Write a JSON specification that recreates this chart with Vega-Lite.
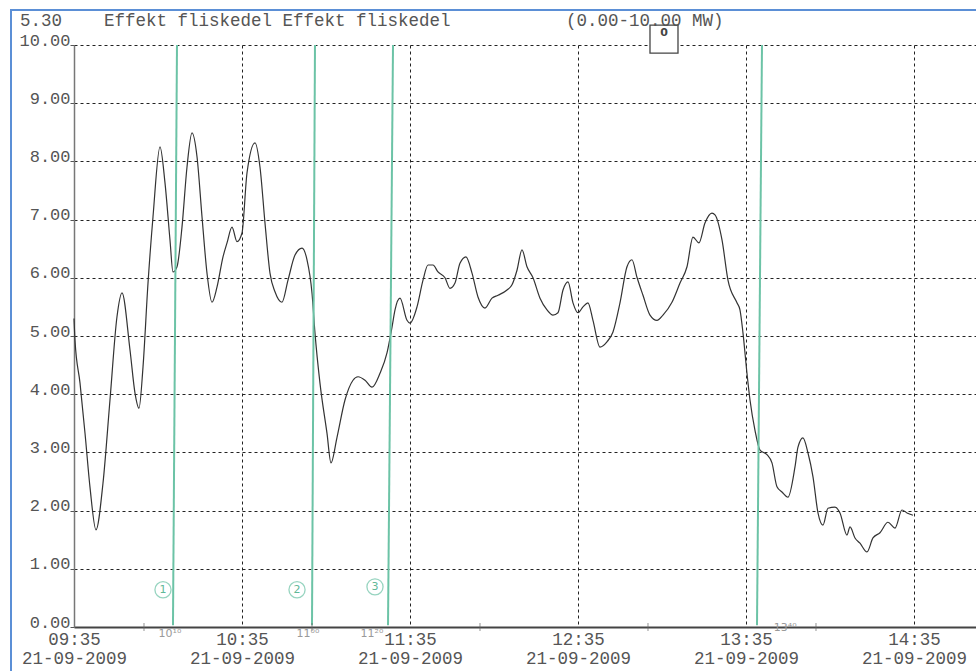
{
  "$schema": "https://vega.github.io/schema/vega-lite/v6.json",
  "width": 902,
  "height": 582,
  "autosize": {"type": "none"},
  "padding": {"left": 74, "top": 45, "right": 0, "bottom": 44},
  "background": "white",
  "config": {"view": {"stroke": null}},
  "data": {"values": [{}]},
  "title": {
    "text": "5.30\u00a0\u00a0\u00a0\u00a0Effekt\u00a0fliskedel\u00a0Effekt\u00a0fliskedel\u00a0\u00a0\u00a0\u00a0\u00a0\u00a0\u00a0\u00a0\u00a0\u00a0\u00a0(0.00-10.00\u00a0MW)",
    "anchor": "start",
    "frame": "group",
    "font": "Liberation Mono",
    "fontSize": 17.5,
    "fontWeight": "normal",
    "color": "#555555",
    "dx": -54,
    "dy": 39,
    "offset": 5,
    "baseline": "alphabetic"
  },
  "datasets": {
    "power": [
      {"t": "2009-09-21T09:35:00", "v": 5.3},
      {"t": "2009-09-21T09:35:21", "v": 4.93},
      {"t": "2009-09-21T09:37:09", "v": 4.19},
      {"t": "2009-09-21T09:38:56", "v": 3.33},
      {"t": "2009-09-21T09:40:43", "v": 2.4},
      {"t": "2009-09-21T09:42:51", "v": 1.67},
      {"t": "2009-09-21T09:45:21", "v": 2.47},
      {"t": "2009-09-21T09:47:51", "v": 3.9},
      {"t": "2009-09-21T09:50:21", "v": 5.33},
      {"t": "2009-09-21T09:52:09", "v": 5.74},
      {"t": "2009-09-21T09:55:00", "v": 4.76},
      {"t": "2009-09-21T09:56:47", "v": 4.02},
      {"t": "2009-09-21T09:58:13", "v": 3.76},
      {"t": "2009-09-21T09:59:39", "v": 4.47},
      {"t": "2009-09-21T10:01:26", "v": 5.91},
      {"t": "2009-09-21T10:03:13", "v": 7.05},
      {"t": "2009-09-21T10:05:43", "v": 8.25},
      {"t": "2009-09-21T10:07:30", "v": 7.63},
      {"t": "2009-09-21T10:09:17", "v": 6.65},
      {"t": "2009-09-21T10:10:21", "v": 6.1},
      {"t": "2009-09-21T10:11:47", "v": 6.19},
      {"t": "2009-09-21T10:13:34", "v": 6.87},
      {"t": "2009-09-21T10:15:21", "v": 7.9},
      {"t": "2009-09-21T10:17:09", "v": 8.49},
      {"t": "2009-09-21T10:18:56", "v": 8.08},
      {"t": "2009-09-21T10:20:43", "v": 7.05},
      {"t": "2009-09-21T10:22:30", "v": 6.08},
      {"t": "2009-09-21T10:24:17", "v": 5.58},
      {"t": "2009-09-21T10:26:04", "v": 5.84},
      {"t": "2009-09-21T10:28:13", "v": 6.36},
      {"t": "2009-09-21T10:29:39", "v": 6.6},
      {"t": "2009-09-21T10:31:26", "v": 6.87},
      {"t": "2009-09-21T10:33:13", "v": 6.62},
      {"t": "2009-09-21T10:35:00", "v": 6.77},
      {"t": "2009-09-21T10:36:47", "v": 7.8},
      {"t": "2009-09-21T10:39:39", "v": 8.32},
      {"t": "2009-09-21T10:41:26", "v": 7.9},
      {"t": "2009-09-21T10:43:13", "v": 6.94},
      {"t": "2009-09-21T10:45:00", "v": 6.08},
      {"t": "2009-09-21T10:46:47", "v": 5.76},
      {"t": "2009-09-21T10:49:17", "v": 5.58},
      {"t": "2009-09-21T10:51:26", "v": 5.96},
      {"t": "2009-09-21T10:53:56", "v": 6.39},
      {"t": "2009-09-21T10:56:26", "v": 6.51},
      {"t": "2009-09-21T10:58:13", "v": 6.31},
      {"t": "2009-09-21T11:00:00", "v": 5.74},
      {"t": "2009-09-21T11:01:04", "v": 5.05},
      {"t": "2009-09-21T11:02:51", "v": 4.19},
      {"t": "2009-09-21T11:05:21", "v": 3.33},
      {"t": "2009-09-21T11:06:47", "v": 2.82},
      {"t": "2009-09-21T11:08:56", "v": 3.26},
      {"t": "2009-09-21T11:11:47", "v": 3.9},
      {"t": "2009-09-21T11:14:39", "v": 4.24},
      {"t": "2009-09-21T11:16:26", "v": 4.3},
      {"t": "2009-09-21T11:18:56", "v": 4.24},
      {"t": "2009-09-21T11:21:26", "v": 4.12},
      {"t": "2009-09-21T11:24:17", "v": 4.36},
      {"t": "2009-09-21T11:26:47", "v": 4.71},
      {"t": "2009-09-21T11:28:34", "v": 5.15},
      {"t": "2009-09-21T11:29:39", "v": 5.45},
      {"t": "2009-09-21T11:31:26", "v": 5.65},
      {"t": "2009-09-21T11:33:56", "v": 5.27},
      {"t": "2009-09-21T11:35:00", "v": 5.22},
      {"t": "2009-09-21T11:37:30", "v": 5.5},
      {"t": "2009-09-21T11:39:39", "v": 5.96},
      {"t": "2009-09-21T11:41:26", "v": 6.22},
      {"t": "2009-09-21T11:43:13", "v": 6.22},
      {"t": "2009-09-21T11:45:00", "v": 6.1},
      {"t": "2009-09-21T11:47:30", "v": 6.0},
      {"t": "2009-09-21T11:49:17", "v": 5.82},
      {"t": "2009-09-21T11:51:04", "v": 5.91},
      {"t": "2009-09-21T11:52:51", "v": 6.25},
      {"t": "2009-09-21T11:55:00", "v": 6.36},
      {"t": "2009-09-21T11:57:09", "v": 6.08},
      {"t": "2009-09-21T11:59:17", "v": 5.67},
      {"t": "2009-09-21T12:01:47", "v": 5.48},
      {"t": "2009-09-21T12:04:17", "v": 5.65},
      {"t": "2009-09-21T12:06:26", "v": 5.7},
      {"t": "2009-09-21T12:09:39", "v": 5.79},
      {"t": "2009-09-21T12:11:26", "v": 5.88},
      {"t": "2009-09-21T12:13:13", "v": 6.13},
      {"t": "2009-09-21T12:15:00", "v": 6.48},
      {"t": "2009-09-21T12:16:47", "v": 6.19},
      {"t": "2009-09-21T12:18:56", "v": 6.0},
      {"t": "2009-09-21T12:21:26", "v": 5.65},
      {"t": "2009-09-21T12:23:56", "v": 5.45},
      {"t": "2009-09-21T12:26:04", "v": 5.36},
      {"t": "2009-09-21T12:27:51", "v": 5.4},
      {"t": "2009-09-21T12:29:39", "v": 5.79},
      {"t": "2009-09-21T12:31:26", "v": 5.93},
      {"t": "2009-09-21T12:33:13", "v": 5.57},
      {"t": "2009-09-21T12:35:00", "v": 5.4},
      {"t": "2009-09-21T12:36:47", "v": 5.5},
      {"t": "2009-09-21T12:38:34", "v": 5.57},
      {"t": "2009-09-21T12:40:21", "v": 5.27},
      {"t": "2009-09-21T12:42:51", "v": 4.81},
      {"t": "2009-09-21T12:45:21", "v": 4.9},
      {"t": "2009-09-21T12:47:30", "v": 5.07},
      {"t": "2009-09-21T12:50:00", "v": 5.57},
      {"t": "2009-09-21T12:52:30", "v": 6.19},
      {"t": "2009-09-21T12:54:17", "v": 6.31},
      {"t": "2009-09-21T12:56:04", "v": 6.01},
      {"t": "2009-09-21T12:58:13", "v": 5.7},
      {"t": "2009-09-21T13:00:43", "v": 5.36},
      {"t": "2009-09-21T13:03:13", "v": 5.27},
      {"t": "2009-09-21T13:05:21", "v": 5.36},
      {"t": "2009-09-21T13:08:34", "v": 5.58},
      {"t": "2009-09-21T13:11:26", "v": 5.91},
      {"t": "2009-09-21T13:13:56", "v": 6.19},
      {"t": "2009-09-21T13:16:04", "v": 6.7},
      {"t": "2009-09-21T13:18:13", "v": 6.6},
      {"t": "2009-09-21T13:20:21", "v": 6.94},
      {"t": "2009-09-21T13:22:51", "v": 7.11},
      {"t": "2009-09-21T13:23:56", "v": 7.08},
      {"t": "2009-09-21T13:26:26", "v": 6.65},
      {"t": "2009-09-21T13:28:34", "v": 5.96},
      {"t": "2009-09-21T13:31:47", "v": 5.57},
      {"t": "2009-09-21T13:32:51", "v": 5.45},
      {"t": "2009-09-21T13:33:56", "v": 5.05},
      {"t": "2009-09-21T13:35:21", "v": 4.36},
      {"t": "2009-09-21T13:36:26", "v": 3.9},
      {"t": "2009-09-21T13:38:13", "v": 3.38},
      {"t": "2009-09-21T13:40:00", "v": 3.04},
      {"t": "2009-09-21T13:42:30", "v": 2.96},
      {"t": "2009-09-21T13:44:17", "v": 2.82},
      {"t": "2009-09-21T13:46:04", "v": 2.41},
      {"t": "2009-09-21T13:47:51", "v": 2.32},
      {"t": "2009-09-21T13:50:00", "v": 2.23},
      {"t": "2009-09-21T13:52:30", "v": 2.75},
      {"t": "2009-09-21T13:53:34", "v": 3.09},
      {"t": "2009-09-21T13:55:21", "v": 3.25},
      {"t": "2009-09-21T13:57:09", "v": 2.99},
      {"t": "2009-09-21T13:58:56", "v": 2.58},
      {"t": "2009-09-21T14:00:43", "v": 1.96},
      {"t": "2009-09-21T14:02:30", "v": 1.75},
      {"t": "2009-09-21T14:04:17", "v": 2.04},
      {"t": "2009-09-21T14:06:47", "v": 2.06},
      {"t": "2009-09-21T14:08:34", "v": 1.96},
      {"t": "2009-09-21T14:11:04", "v": 1.58},
      {"t": "2009-09-21T14:12:09", "v": 1.72},
      {"t": "2009-09-21T14:13:56", "v": 1.53},
      {"t": "2009-09-21T14:15:43", "v": 1.44},
      {"t": "2009-09-21T14:18:13", "v": 1.29},
      {"t": "2009-09-21T14:20:21", "v": 1.53},
      {"t": "2009-09-21T14:22:51", "v": 1.62},
      {"t": "2009-09-21T14:25:43", "v": 1.8},
      {"t": "2009-09-21T14:28:13", "v": 1.7},
      {"t": "2009-09-21T14:30:43", "v": 2.01},
      {"t": "2009-09-21T14:32:30", "v": 1.96},
      {"t": "2009-09-21T14:34:39", "v": 1.92}
    ],
    "marks": [
      {"top": "2009-09-21T10:11:47", "bottom": "2009-09-21T10:10:21"},
      {"top": "2009-09-21T11:01:04", "bottom": "2009-09-21T11:00:00"},
      {"top": "2009-09-21T11:28:56", "bottom": "2009-09-21T11:27:09"},
      {"top": "2009-09-21T13:40:43", "bottom": "2009-09-21T13:38:56"}
    ],
    "circled": [
      {"t": "2009-09-21T10:06:47", "v": 0.64, "n": "1"},
      {"t": "2009-09-21T10:54:39", "v": 0.64, "n": "2"},
      {"t": "2009-09-21T11:22:30", "v": 0.69, "n": "3"}
    ],
    "notes": [
      {"t": "2009-09-21T10:09:17", "v": -0.12, "s": "10¹⁰"},
      {"t": "2009-09-21T10:58:34", "v": -0.12, "s": "11⁰⁰"},
      {"t": "2009-09-21T11:21:26", "v": -0.12, "s": "11²⁰"},
      {"t": "2009-09-21T13:49:00", "v": -0.02, "s": "13⁴⁰"}
    ],
    "hours": [
      {"t": "2009-09-21T10:00:00"},
      {"t": "2009-09-21T11:00:00"},
      {"t": "2009-09-21T12:00:00"},
      {"t": "2009-09-21T13:00:00"},
      {"t": "2009-09-21T14:00:00"}
    ],
    "frame": [
      {"t1": "2009-09-21T09:12:30", "t2": "2009-09-21T15:30:00", "v1": 10.6, "v2": -2}
    ],
    "cursor": [
      {"t": "2009-09-21T13:05:43", "v": 10.1, "s": "0"}
    ]
  },
  "layer": [
    {
      "data": {"name": "power"},
      "mark": {"type": "line", "color": "#333333", "strokeWidth": 1.2, "interpolate": "monotone"},
      "encoding": {
        "x": {
          "field": "t",
          "type": "temporal",
          "title": null,
          "scale": {
            "domain": [
              {"year": 2009, "month": 9, "date": 21, "hours": 9, "minutes": 35},
              {"year": 2009, "month": 9, "date": 21, "hours": 14, "minutes": 57, "seconds": 9}
            ]
          },
          "axis": {
            "title": null,
            "values": [
              {"year": 2009, "month": 9, "date": 21, "hours": 9, "minutes": 35},
              {"year": 2009, "month": 9, "date": 21, "hours": 10, "minutes": 35},
              {"year": 2009, "month": 9, "date": 21, "hours": 11, "minutes": 35},
              {"year": 2009, "month": 9, "date": 21, "hours": 12, "minutes": 35},
              {"year": 2009, "month": 9, "date": 21, "hours": 13, "minutes": 35},
              {"year": 2009, "month": 9, "date": 21, "hours": 14, "minutes": 35}
            ],
            "labelExpr": "[timeFormat(datum.value, '%H:%M'), timeFormat(datum.value, '%d-%m-%Y')]",
            "labelFont": "Liberation Mono",
            "labelFontSize": 17.5,
            "labelColor": "#555555",
            "labelLineHeight": 19,
            "labelPadding": 3,
            "labelFlush": false,
            "labelOverlap": false,
            "labelBound": false,
            "labelAngle": 0,
            "tickSize": 0,
            "domainColor": "#444444",
            "domainWidth": 2,
            "grid": true,
            "gridColor": "#222222",
            "gridDash": [3, 3],
            "gridWidth": 1
          }
        },
        "y": {
          "field": "v",
          "type": "quantitative",
          "title": null,
          "scale": {"domain": [0, 10], "nice": false, "zero": false},
          "axis": {
            "title": null,
            "values": [0, 1, 2, 3, 4, 5, 6, 7, 8, 9, 10],
            "format": ".2f",
            "labelFont": "Liberation Mono",
            "labelFontSize": 17,
            "labelColor": "#555555",
            "labelBaseline": "alphabetic",
            "labelPadding": 0,
            "labelFlush": false,
            "labelOverlap": false,
            "labelBound": false,
            "tickSize": 4,
            "tickColor": "#555555",
            "domainColor": "#777777",
            "domainWidth": 1.5,
            "grid": true,
            "gridColor": "#222222",
            "gridDash": [3, 3],
            "gridWidth": 1
          }
        }
      }
    },
    {
      "data": {"name": "frame"},
      "mark": {"type": "rect", "filled": false, "stroke": "#5b8fd6", "strokeWidth": 2},
      "encoding": {
        "x": {"field": "t1", "type": "temporal", "title": null},
        "x2": {"field": "t2"},
        "y": {"field": "v1", "type": "quantitative", "title": null},
        "y2": {"field": "v2"}
      }
    },
    {
      "data": {"name": "marks"},
      "mark": {"type": "rule", "color": "#6cc3a6", "strokeWidth": 2},
      "encoding": {
        "x": {"field": "top", "type": "temporal", "title": null},
        "x2": {"field": "bottom"},
        "y": {"datum": 10, "type": "quantitative", "title": null},
        "y2": {"datum": 0.03}
      }
    },
    {
      "data": {"name": "hours"},
      "mark": {"type": "tick", "orient": "vertical", "color": "#666666", "size": 8, "thickness": 1},
      "encoding": {
        "x": {"field": "t", "type": "temporal", "title": null},
        "y": {"datum": 0, "type": "quantitative", "title": null}
      }
    },
    {
      "data": {"name": "circled"},
      "mark": {"type": "point", "shape": "circle", "filled": false, "stroke": "#6cc3a6", "strokeWidth": 1.3, "size": 260},
      "encoding": {
        "x": {"field": "t", "type": "temporal", "title": null},
        "y": {"field": "v", "type": "quantitative", "title": null}
      }
    },
    {
      "data": {"name": "circled"},
      "mark": {"type": "text", "color": "#5fb898", "fontSize": 11, "font": "DejaVu Sans", "baseline": "middle", "align": "center"},
      "encoding": {
        "x": {"field": "t", "type": "temporal", "title": null},
        "y": {"field": "v", "type": "quantitative", "title": null},
        "text": {"field": "n"}
      }
    },
    {
      "data": {"name": "notes"},
      "mark": {"type": "text", "color": "#9a9a9a", "fontSize": 11, "font": "DejaVu Sans", "baseline": "middle", "align": "center"},
      "encoding": {
        "x": {"field": "t", "type": "temporal", "title": null},
        "y": {"field": "v", "type": "quantitative", "title": null},
        "text": {"field": "s"}
      }
    },
    {
      "data": {"name": "cursor"},
      "mark": {"type": "point", "shape": "square", "filled": true, "fill": "white", "stroke": "#444444", "strokeWidth": 1.3, "size": 784, "opacity": 1},
      "encoding": {
        "x": {"field": "t", "type": "temporal", "title": null},
        "y": {"field": "v", "type": "quantitative", "title": null}
      }
    },
    {
      "data": {"name": "cursor"},
      "mark": {"type": "text", "font": "DejaVu Sans", "fontSize": 11, "fontWeight": "bold", "color": "#444444", "dy": -6},
      "encoding": {
        "x": {"field": "t", "type": "temporal", "title": null},
        "y": {"field": "v", "type": "quantitative", "title": null},
        "text": {"field": "s"}
      }
    }
  ]
}
